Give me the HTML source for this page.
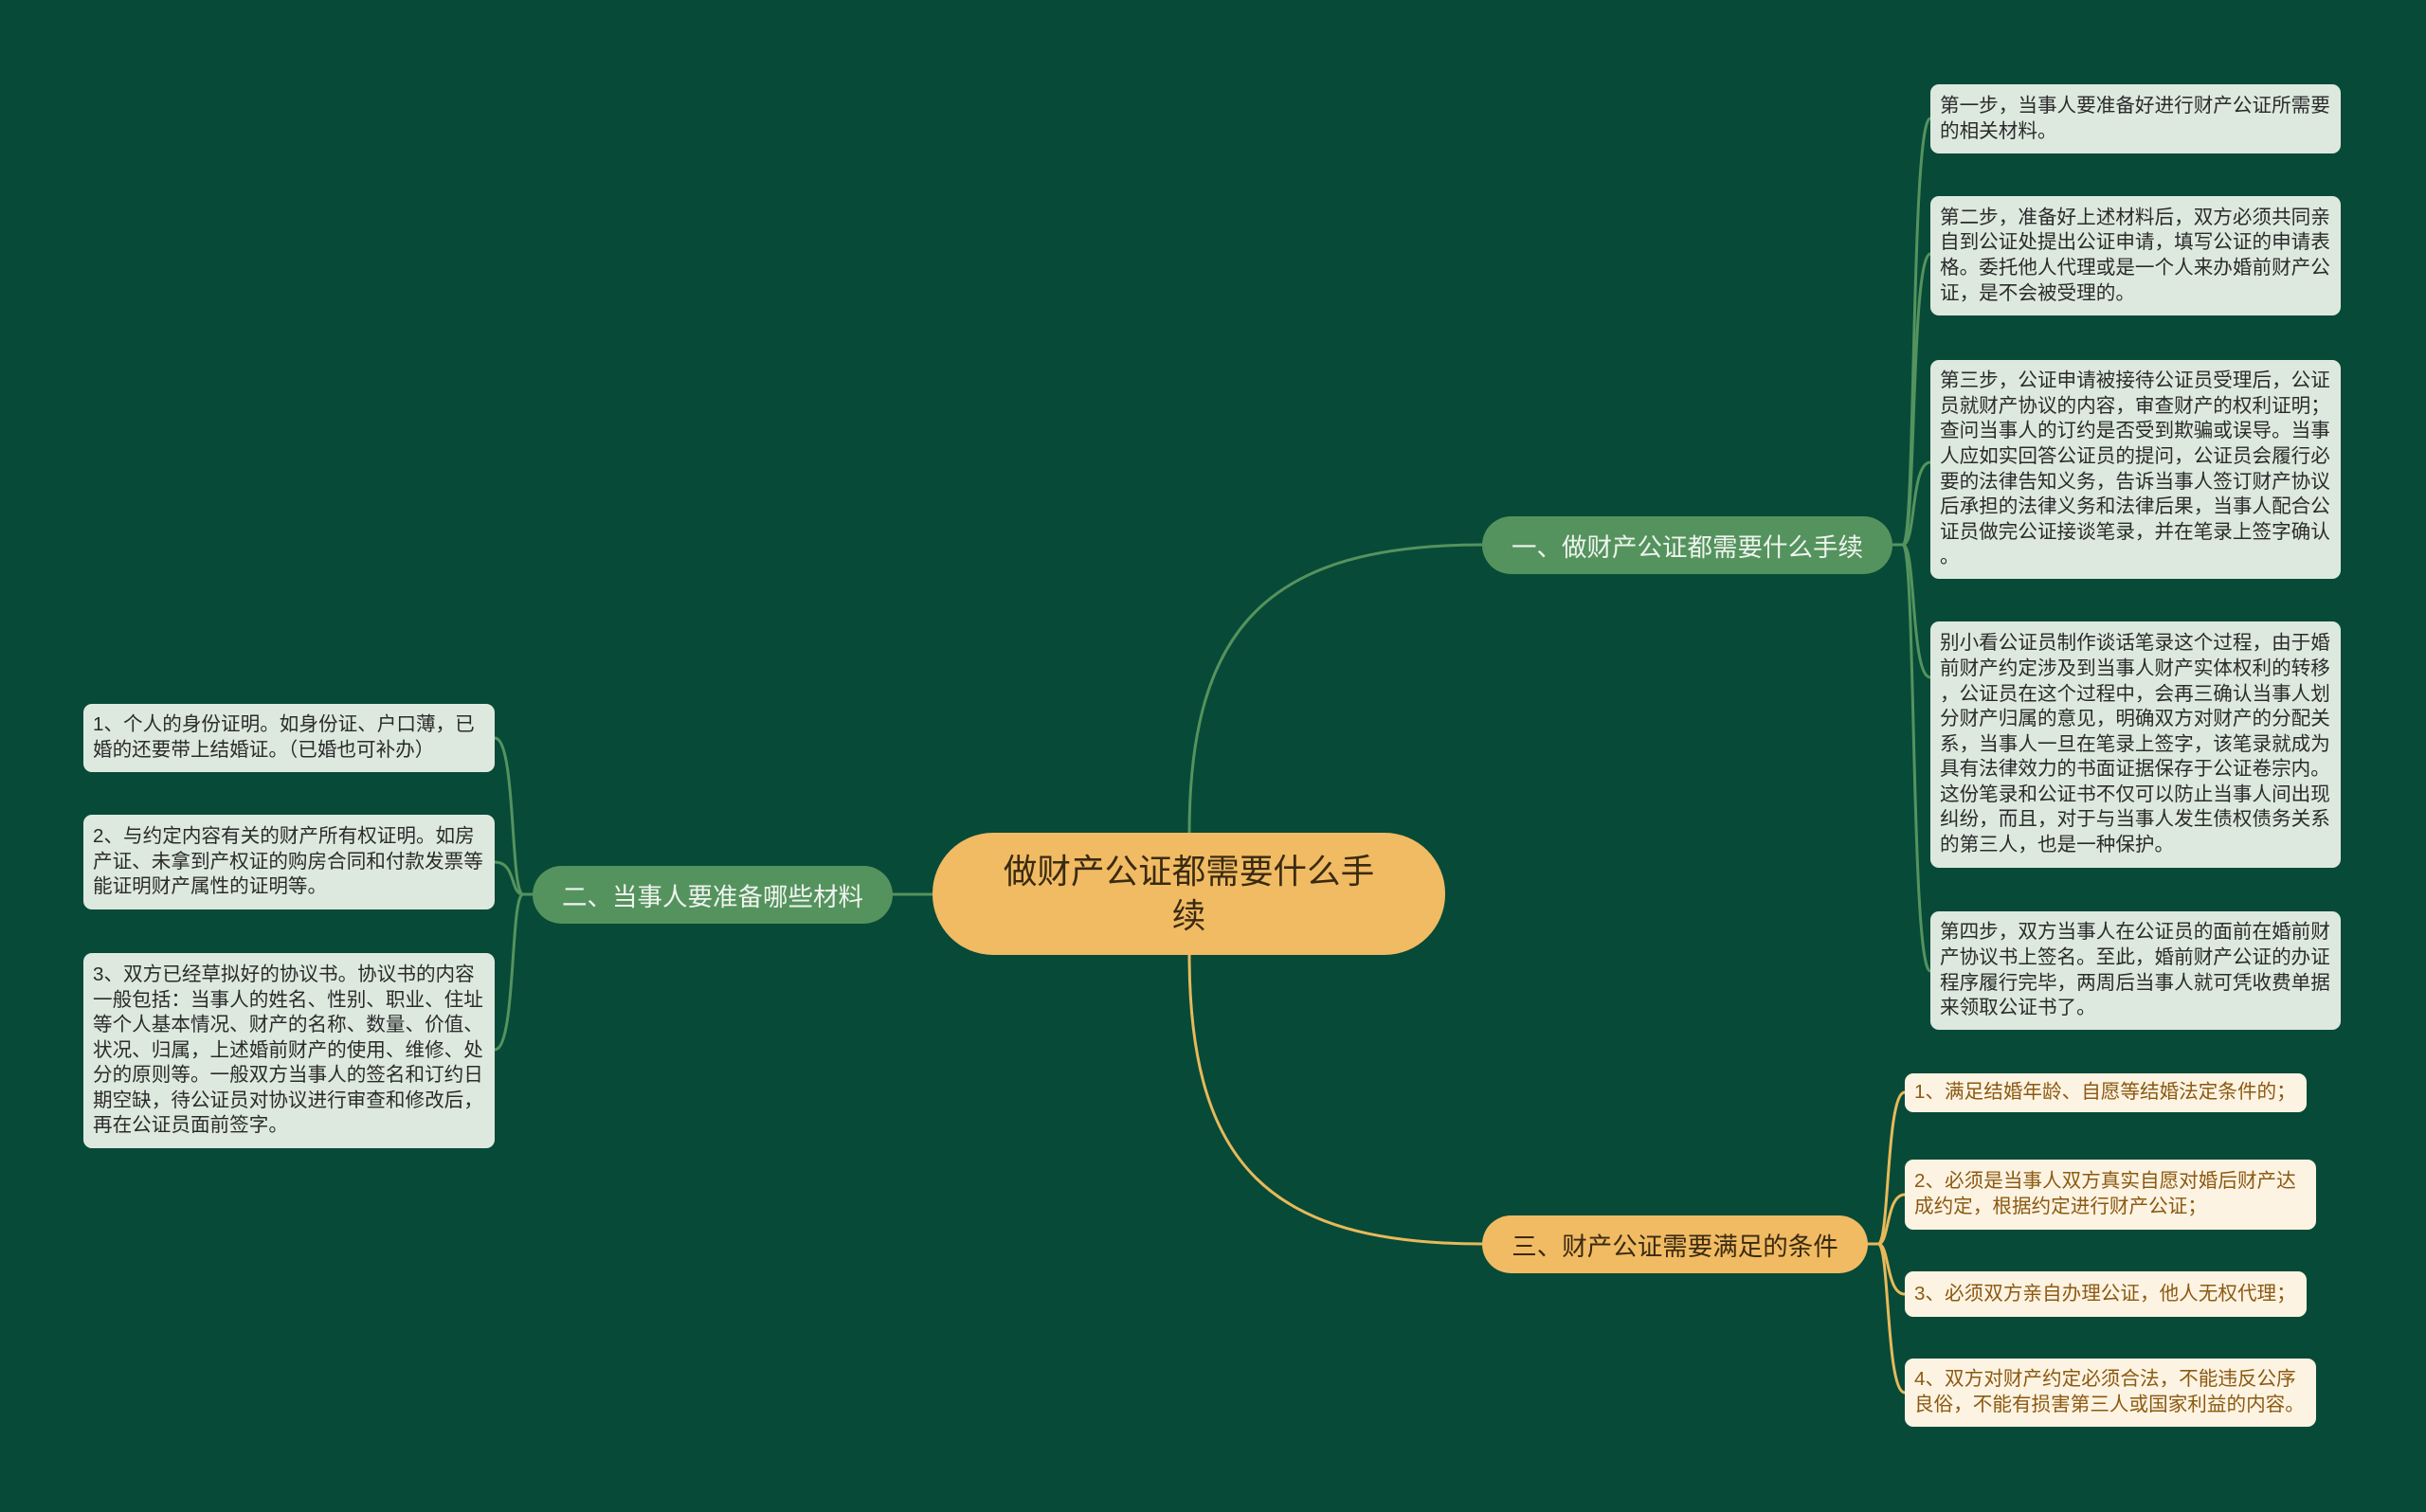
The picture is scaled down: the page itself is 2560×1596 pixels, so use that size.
<!DOCTYPE html>
<html><head><meta charset="utf-8"><style>
html,body{margin:0;padding:0}
body{width:2560px;height:1596px;background:#074a38;position:relative;overflow:hidden;font-family:"Liberation Sans","Noto Sans CJK SC",sans-serif}
.b{position:absolute;box-sizing:border-box;border-radius:9px;font-size:20.6px;line-height:26.6px;padding:0 0 0 10px;display:flex;align-items:center;white-space:nowrap}
.g{background:#dde9df;color:#2b2b2b}
.y{background:#fdf3e2;color:#8b5a12}
.p{position:absolute;box-sizing:border-box;border-radius:31px;display:flex;align-items:center;justify-content:center;font-size:26.5px;white-space:nowrap}
.pg{background:#55935e;color:#eef4ee}
.py{background:#f0bb63;color:#3a2a10}
</style></head><body>
<svg width="2560" height="1596" style="position:absolute;left:0;top:0">
<g fill="none" stroke-width="3">
<path d="M1255 880 C1255 660 1340 575 1564 575" stroke="#55935e"/>
<path d="M1255 1007 C1255 1230 1340 1313 1564 1313" stroke="#e8b95a"/>
<path d="M942 944 H984" stroke="#55935e"/>
<g stroke="#55935e">
<path d="M1997 575 H2008 C2022 575 2016 125 2037 125"/>
<path d="M1997 575 H2008 C2022 575 2016 268 2037 268"/>
<path d="M1997 575 H2008 C2022 575 2016 488 2037 488"/>
<path d="M1997 575 H2008 C2022 575 2016 715 2037 715"/>
<path d="M1997 575 H2008 C2022 575 2016 1025 2037 1025"/>
<path d="M562 944 H552 C538 944 545 779 522 779"/>
<path d="M562 944 H552 C538 944 545 910 522 910"/>
<path d="M562 944 H552 C538 944 545 1108 522 1108"/>
</g>
<g stroke="#e8b95a">
<path d="M1971 1313 H1982 C1994 1313 1990 1153 2010 1153"/>
<path d="M1971 1313 H1982 C1994 1313 1990 1261 2010 1261"/>
<path d="M1971 1313 H1982 C1994 1313 1990 1366 2010 1366"/>
<path d="M1971 1313 H1982 C1994 1313 1990 1470 2010 1470"/>
</g>
</g>
</svg>

<div class="p py" style="left:984px;top:879px;width:541px;height:129px;border-radius:64px;font-size:35.6px;line-height:47px;text-align:center">做财产公证都需要什么手<br>续</div>
<div class="p pg" style="left:1564px;top:545px;width:433px;height:61px">一、做财产公证都需要什么手续</div>
<div class="p pg" style="left:562px;top:914px;width:380px;height:61px">二、当事人要准备哪些材料</div>
<div class="p py" style="left:1564px;top:1283px;width:407px;height:61px">三、财产公证需要满足的条件</div>

<div class="b g" style="left:2037px;top:89px;width:433px;height:73px">第一步，当事人要准备好进行财产公证所需要<br>的相关材料。</div>
<div class="b g" style="left:2037px;top:207px;width:433px;height:126px">第二步，准备好上述材料后，双方必须共同亲<br>自到公证处提出公证申请，填写公证的申请表<br>格。委托他人代理或是一个人来办婚前财产公<br>证，是不会被受理的。</div>
<div class="b g" style="left:2037px;top:380px;width:433px;height:231px">第三步，公证申请被接待公证员受理后，公证<br>员就财产协议的内容，审查财产的权利证明；<br>查问当事人的订约是否受到欺骗或误导。当事<br>人应如实回答公证员的提问，公证员会履行必<br>要的法律告知义务，告诉当事人签订财产协议<br>后承担的法律义务和法律后果，当事人配合公<br>证员做完公证接谈笔录，并在笔录上签字确认<br>。</div>
<div class="b g" style="left:2037px;top:656px;width:433px;height:260px">别小看公证员制作谈话笔录这个过程，由于婚<br>前财产约定涉及到当事人财产实体权利的转移<br>，公证员在这个过程中，会再三确认当事人划<br>分财产归属的意见，明确双方对财产的分配关<br>系，当事人一旦在笔录上签字，该笔录就成为<br>具有法律效力的书面证据保存于公证卷宗内。<br>这份笔录和公证书不仅可以防止当事人间出现<br>纠纷，而且，对于与当事人发生债权债务关系<br>的第三人，也是一种保护。</div>
<div class="b g" style="left:2037px;top:962px;width:433px;height:125px">第四步，双方当事人在公证员的面前在婚前财<br>产协议书上签名。至此，婚前财产公证的办证<br>程序履行完毕，两周后当事人就可凭收费单据<br>来领取公证书了。</div>

<div class="b g" style="left:88px;top:743px;width:434px;height:72px">1、个人的身份证明。如身份证、户口薄，已<br>婚的还要带上结婚证。（已婚也可补办）</div>
<div class="b g" style="left:88px;top:860px;width:434px;height:100px">2、与约定内容有关的财产所有权证明。如房<br>产证、未拿到产权证的购房合同和付款发票等<br>能证明财产属性的证明等。</div>
<div class="b g" style="left:88px;top:1006px;width:434px;height:206px">3、双方已经草拟好的协议书。协议书的内容<br>一般包括：当事人的姓名、性别、职业、住址<br>等个人基本情况、财产的名称、数量、价值、<br>状况、归属，上述婚前财产的使用、维修、处<br>分的原则等。一般双方当事人的签名和订约日<br>期空缺，待公证员对协议进行审查和修改后，<br>再在公证员面前签字。</div>

<div class="b y" style="left:2010px;top:1133px;width:424px;height:41px">1、满足结婚年龄、自愿等结婚法定条件的；</div>
<div class="b y" style="left:2010px;top:1224px;width:434px;height:74px">2、必须是当事人双方真实自愿对婚后财产达<br>成约定，根据约定进行财产公证；</div>
<div class="b y" style="left:2010px;top:1342px;width:424px;height:48px">3、必须双方亲自办理公证，他人无权代理；</div>
<div class="b y" style="left:2010px;top:1434px;width:434px;height:72px">4、双方对财产约定必须合法，不能违反公序<br>良俗，不能有损害第三人或国家利益的内容。</div>
</body></html>
